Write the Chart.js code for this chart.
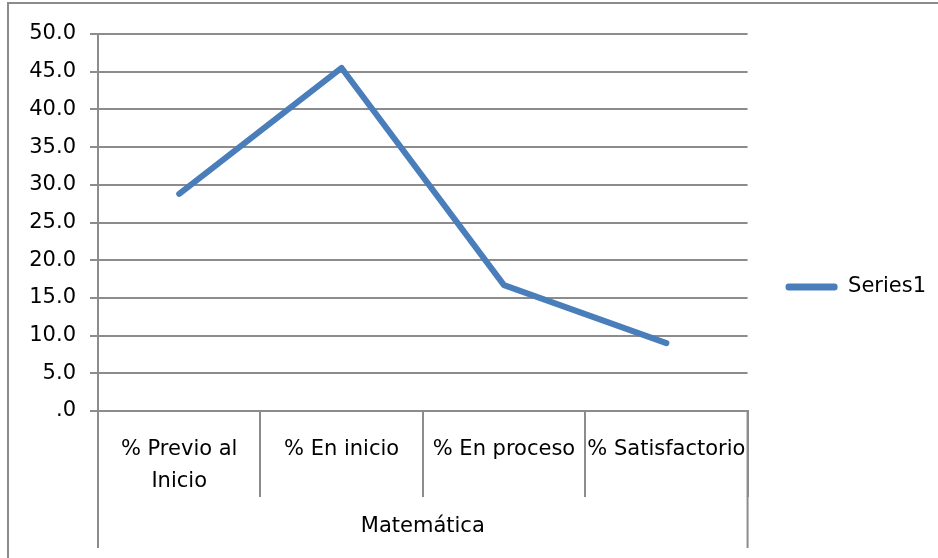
<!DOCTYPE html>
<html>
<head>
<meta charset="utf-8">
<script src="https://cdn.jsdelivr.net/npm/chart.js@4/dist/chart.umd.min.js"></script>
<style>
  html, body { margin: 0; padding: 0; background: #ffffff; }
  #wrap { position: relative; width: 938px; height: 558px; }
</style>
</head>
<body>
<div id="wrap"><canvas id="lineChart" width="938" height="558"></canvas></div>
<script>
// categories and values
const categories = [['% Previo al', 'Inicio'], '% En inicio', '% En proceso', '% Satisfactorio'];
const groupLabel = 'Matemática';
const seriesName = 'Series1';
const seriesValues = [28.8, 45.5, 16.7, 9.0];
const yTicks = [0, 5, 10, 15, 20, 25, 30, 35, 40, 45, 50];

const gridGray = '#8c8c8c';
const lineBlue = '#4a7ebb';
const fontFamily = '"DejaVu Sans", sans-serif';
const fontSize = 21;

// outer frame + second level of the category axis
const groupAxis = {
  id: 'groupAxis',
  beforeDraw(chart) {
    const ctx = chart.ctx;
    ctx.save();
    ctx.strokeStyle = gridGray;
    ctx.lineWidth = 2;
    ctx.beginPath();
    ctx.moveTo(8, 558);
    ctx.lineTo(8, 3);
    ctx.lineTo(938, 3);
    ctx.stroke();
    ctx.restore();
  },
  afterDraw(chart) {
    const ctx = chart.ctx;
    const area = chart.chartArea;
    ctx.save();
    ctx.strokeStyle = gridGray;
    ctx.lineWidth = 2;
    ctx.beginPath();
    ctx.moveTo(area.left, area.bottom);
    ctx.lineTo(area.left, 548);
    ctx.moveTo(area.right, area.bottom);
    ctx.lineTo(area.right, 548);
    ctx.stroke();
    ctx.fillStyle = '#000000';
    ctx.font = fontSize + 'px ' + fontFamily;
    ctx.textAlign = 'center';
    ctx.textBaseline = 'middle';
    ctx.fillText(groupLabel, (area.left + area.right) / 2, 527);
    ctx.restore();
  }
};

document.addEventListener('DOMContentLoaded', function () {
  const ctx = document.getElementById('lineChart').getContext('2d');
  new Chart(ctx, {
    type: 'line',
    data: {
      labels: categories,
      datasets: [{
        label: seriesName,
        data: seriesValues,
        borderColor: lineBlue,
        backgroundColor: lineBlue,
        borderWidth: 6,
        borderCapStyle: 'round',
        borderJoinStyle: 'round',
        pointRadius: 0,
        pointHoverRadius: 0,
        tension: 0,
        fill: false
      }]
    },
    options: {
      responsive: false,
      animation: false,
      layout: { padding: { top: 34, left: 0, bottom: 18, right: 2 } },
      plugins: {
        tooltip: { enabled: false },
        legend: {
          position: 'right',
          align: 'center',
          labels: {
            boxWidth: 52,
            boxHeight: 7,
            padding: 38,
            color: '#000000',
            font: { family: fontFamily, size: fontSize },
            generateLabels(chart) {
              return Chart.defaults.plugins.legend.labels.generateLabels(chart).map(item => ({
                ...item,
                lineWidth: 0,
                fillStyle: lineBlue,
                borderRadius: 3
              }));
            }
          }
        }
      },
      scales: {
        x: {
          offset: true,
          afterFit(scale) { scale.height = 129; },
          border: { display: true, color: gridGray, width: 2 },
          grid: {
            offset: true,
            drawOnChartArea: false,
            drawTicks: true,
            tickLength: 86,
            tickColor: gridGray,
            lineWidth: 2
          },
          ticks: {
            color: '#000000',
            padding: -64,
            maxRotation: 0,
            autoSkip: false,
            font: { family: fontFamily, size: fontSize, lineHeight: 1.55 }
          }
        },
        y: {
          min: 0,
          max: 50,
          afterFit(scale) { scale.width = 98; },
          afterBuildTicks(scale) { scale.ticks = yTicks.map(v => ({ value: v })); },
          border: { display: true, color: gridGray, width: 2 },
          grid: {
            color: gridGray,
            lineWidth: 2,
            tickLength: 8,
            tickColor: gridGray
          },
          ticks: {
            color: '#000000',
            padding: 14,
            font: { family: fontFamily, size: fontSize },
            callback: v => v === 0 ? '.0' : v.toFixed(1)
          }
        }
      }
    },
    plugins: [groupAxis]
  });
});
</script>
</body>
</html>
